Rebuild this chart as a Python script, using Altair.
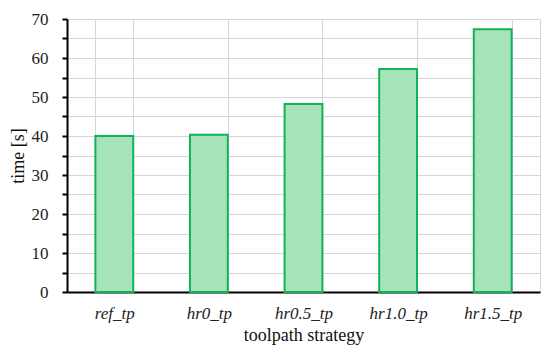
import altair as alt
import pandas as pd

categories = ["ref_tp", "hr0_tp", "hr0.5_tp", "hr1.0_tp", "hr1.5_tp"]
times = [40.0, 40.3, 48.2, 57.2, 67.4]
y_ticks = [0, 5, 10, 15, 20, 25, 30, 35, 40, 45, 50, 55, 60, 65, 70]

df = pd.DataFrame({"strategy": categories, "time": times})

FONT = "Liberation Serif"
GRID = "#d6d6d6"

x_axis = alt.Axis(labelAngle=0, labelFontStyle="italic",
                  labelFont=FONT, labelFontSize=17, labelColor="#222",
                  labelPadding=13, titlePadding=5,
                  titleFont=FONT, titleFontSize=18, titleFontWeight="normal",
                  titleColor="#111",
                  domainColor="black", domainWidth=2,
                  ticks=False, grid=True, gridColor=GRID,
                  tickBand="extent")

y_scale = alt.Scale(domain=[0, 70], nice=False)
y_axis = alt.Axis(values=y_ticks, labelFont=FONT, labelFontSize=17, labelColor="#222",
                  labelExpr="datum.value % 10 == 0 ? datum.label : ''",
                  tickSize=5, tickColor="black", tickWidth=2,
                  labelPadding=14, titlePadding=4,
                  titleFont=FONT, titleFontSize=18, titleFontWeight="normal",
                  titleColor="#111",
                  domainColor="black", domainWidth=2,
                  grid=True, gridColor=GRID)

bars = alt.Chart(df).mark_bar(fill="#a6e3b8", stroke="#10b35a", strokeWidth=2).encode(
    x=alt.X("strategy:N", sort=categories, title="toolpath strategy",
            scale=alt.Scale(paddingInner=0.6, paddingOuter=0.3), axis=x_axis),
    y=alt.Y("time:Q", scale=y_scale, title="time [s]", axis=y_axis),
)

chart = bars.properties(
    width=473, height=273,
    autosize=alt.AutoSizeParams(type="none"),
    padding={"left": 59, "top": 11, "right": 2, "bottom": 60},
).configure_view(stroke=GRID, strokeWidth=1)

chart.save("out.html", embed_options={"renderer": "svg", "actions": False})
